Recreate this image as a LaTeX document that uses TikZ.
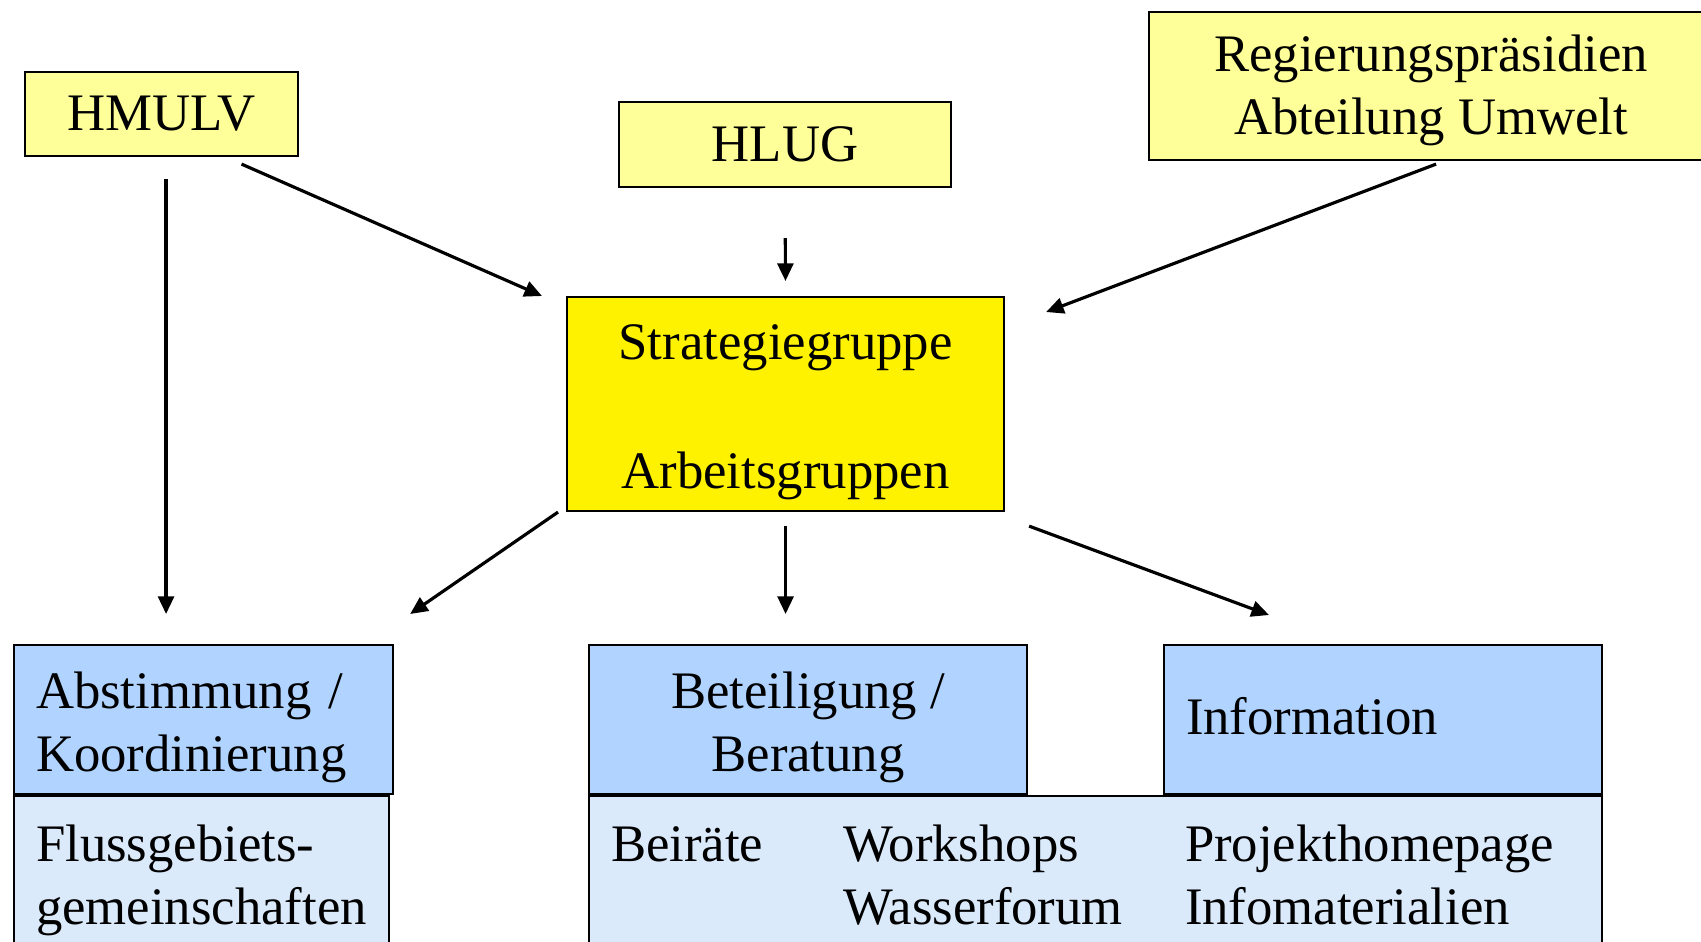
\documentclass[tikz,border=0pt]{standalone}
\usepackage{fontspec}
\setmainfont{Liberation Serif}
\usetikzlibrary{arrows.meta}
\definecolor{paleyellow}{RGB}{255,255,153}
\definecolor{lightblue}{RGB}{176,212,255}
\definecolor{dotblue}{RGB}{219,234,251}
\tikzset{box/.style={draw, line width=0.6pt, font=\fontsize{15}{18}\selectfont,
  inner xsep=0pt, inner ysep=0pt, anchor=north west, align=center}}
\tikzset{lbox/.style={box, align=left, inner xsep=0.22cm}}
\tikzset{lower/.style={execute at begin node={\rule{0pt}{#1}}}}
\tikzset{raise/.style={execute at end node={\rule[-#1]{0pt}{0pt}}}}
\tikzset{arr/.style={-{Triangle[length=5pt,width=4.5pt]}, line width=0.9pt}}

\begin{document}
\begin{tikzpicture}
      \path[use as bounding box, clip] (0,0) rectangle (17.01,-9.41);

      \node [box, fill=paleyellow, minimum width=2.73cm, minimum height=0.84cm] (hmulv) at (0.24,-0.71) {HMULV};
      \node [box, fill=paleyellow, minimum width=3.32cm, minimum height=0.85cm] (hlug) at (6.18,-1.01) {HLUG};
      \node [box, fill=paleyellow, minimum width=5.64cm, minimum height=1.48cm] (regp) at (11.48,-0.11) {\rule{0pt}{12.7pt}Regierungspräsidien\\Abteilung Umwelt};
      \node [box, fill=yellow, minimum width=4.37cm, minimum height=2.14cm] (strat) at (5.66,-2.96) {\rule{0pt}{14.5pt}Strategiegruppe\\[18.6pt]Arbeitsgruppen};

      \node [lbox, fill=lightblue, lower=15pt, text width=3.35cm, minimum height=1.49cm] (abst) at (0.13,-6.44) {Abstimmung /\\Koordinierung};
      \node [box, fill=lightblue, minimum width=4.38cm, minimum height=1.49cm] (betei) at (5.88,-6.44) {\rule{0pt}{15pt}Beteiligung /\\Beratung};
      \node [lbox, fill=lightblue, raise=1.9pt, text width=3.94cm, minimum height=1.49cm] (info) at (11.63,-6.44) {Information};

      \node [lbox, fill=dotblue, text width=3.31cm, minimum height=1.685cm] (fluss) at (0.13,-7.95) {Flussgebiets-\\gemeinschaften};
      \node [lbox, fill=dotblue, text width=9.69cm, minimum height=1.685cm] (wide) at (5.88,-7.95)
        {\begin{tabular}{@{}p{2.32cm}@{}p{3.42cm}@{}l@{}}
          Beiräte & Workshops & Projekthomepage\\
                  & Wasserforum & Infomaterialien
        \end{tabular}};

      \draw [arr, shorten <=0.22cm, shorten >=0.3cm] ([xshift=0.045cm]hmulv.south) -- ([xshift=0.045cm]hmulv.south |- abst.north);
      \draw [arr] ([shift={(0.8,-0.07)}]hmulv.south) -- ([xshift=-0.24cm]strat.north west);
      \draw [arr, shorten <=0.5cm, shorten >=0.15cm] (hlug.south) -- (strat.north);
      \draw [arr] ([shift={(0.05,-0.03)}]regp.south) -- ([shift={(0.41,-0.16)}]strat.north east);

      \draw [arr] ([xshift=-0.08cm]strat.south west) -- ([shift={(0.16,0.3)}]abst.north east);
      \draw [arr, shorten <=0.14cm, shorten >=0.3cm] (strat.south) -- (strat.south |- betei.north);
      \draw [arr] ([shift={(0.24,-0.14)}]strat.south east) -- ([shift={(1.06,0.29)}]info.north west);
    \end{tikzpicture}
\end{document}
